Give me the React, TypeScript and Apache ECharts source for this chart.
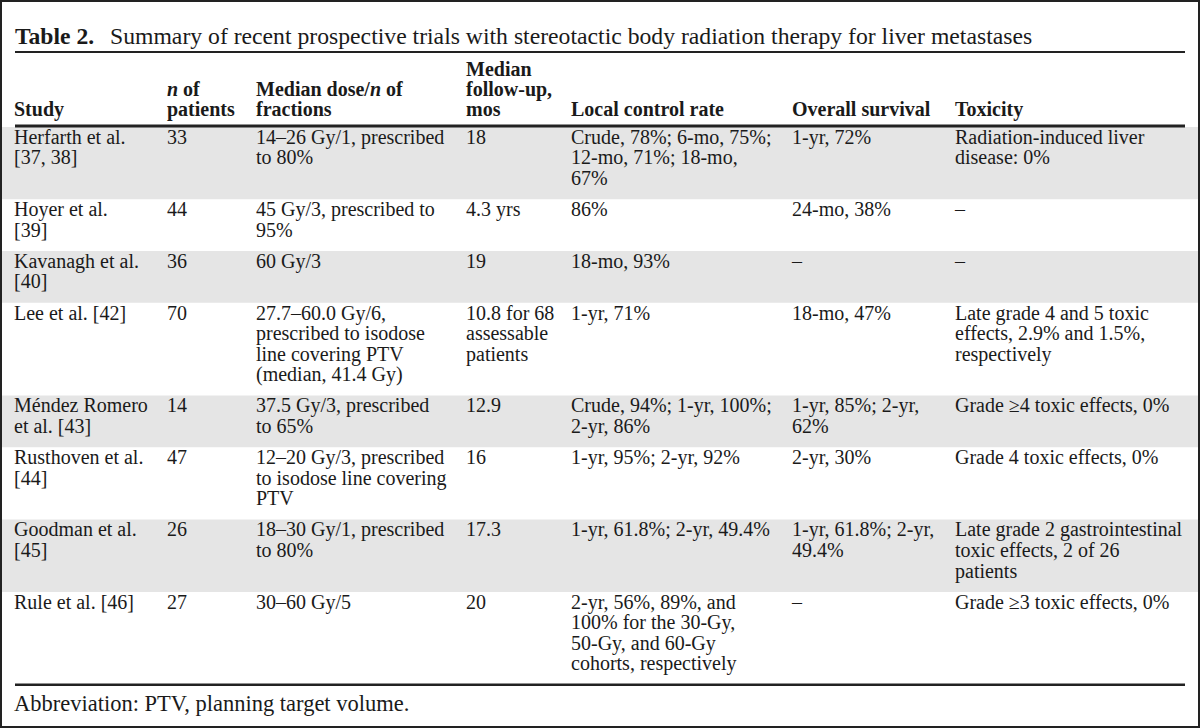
import React, { useEffect, useRef } from "react";
import * as echarts from "echarts";

const titleLabel = "Table 2.";
const titleText =
  "Summary of recent prospective trials with stereotactic body radiation therapy for liver metastases";
const footnote = "Abbreviation: PTV, planning target volume.";

const headers = [
  "Study",
  "{i|n} of\npatients",
  "Median dose/{i|n} of\nfractions",
  "Median\nfollow-up,\nmos",
  "Local control rate",
  "Overall survival",
  "Toxicity",
];

const studies = [
  "Herfarth et al.\n[37, 38]",
  "Hoyer et al.\n[39]",
  "Kavanagh et al.\n[40]",
  "Lee et al. [42]",
  "Méndez Romero\net al. [43]",
  "Rusthoven et al.\n[44]",
  "Goodman et al.\n[45]",
  "Rule et al. [46]",
];
const nPatients = ["33", "44", "36", "70", "14", "47", "26", "27"];
const doses = [
  "14–26 Gy/1, prescribed\nto 80%",
  "45 Gy/3, prescribed to\n95%",
  "60 Gy/3",
  "27.7–60.0 Gy/6,\nprescribed to isodose\nline covering PTV\n(median, 41.4 Gy)",
  "37.5 Gy/3, prescribed\nto 65%",
  "12–20 Gy/3, prescribed\nto isodose line covering\nPTV",
  "18–30 Gy/1, prescribed\nto 80%",
  "30–60 Gy/5",
];
const followUps = ["18", "4.3 yrs", "19", "10.8 for 68\nassessable\npatients", "12.9", "16", "17.3", "20"];
const localControl = [
  "Crude, 78%; 6-mo, 75%;\n12-mo, 71%; 18-mo,\n67%",
  "86%",
  "18-mo, 93%",
  "1-yr, 71%",
  "Crude, 94%; 1-yr, 100%;\n2-yr, 86%",
  "1-yr, 95%; 2-yr, 92%",
  "1-yr, 61.8%; 2-yr, 49.4%",
  "2-yr, 56%, 89%, and\n100% for the 30-Gy,\n50-Gy, and 60-Gy\ncohorts, respectively",
];
const overallSurvival = [
  "1-yr, 72%",
  "24-mo, 38%",
  "–",
  "18-mo, 47%",
  "1-yr, 85%; 2-yr,\n62%",
  "2-yr, 30%",
  "1-yr, 61.8%; 2-yr,\n49.4%",
  "–",
];
const toxicity = [
  "Radiation-induced liver\ndisease: 0%",
  "–",
  "–",
  "Late grade 4 and 5 toxic\neffects, 2.9% and 1.5%,\nrespectively",
  "Grade ≥4 toxic effects, 0%",
  "Grade 4 toxic effects, 0%",
  "Late grade 2 gastrointestinal\ntoxic effects, 2 of 26\npatients",
  "Grade ≥3 toxic effects, 0%",
];

const columns = [studies, nPatients, doses, followUps, localControl, overallSurvival, toxicity];

export default function App() {
  const ref = useRef<HTMLDivElement>(null);

  useEffect(() => {
    if (!ref.current) return;
    const chart = echarts.init(ref.current, null, { renderer: "svg" });

    const W = 1200;
    const H = 728;
    const FONT = "'Liberation Serif', 'Times New Roman', serif";
    const INK = "#1a1a1a";
    const colX = [15, 168, 257, 467, 572, 793, 956];
    const L = 20.6;
    const PAD = 10.5;
    const bodyFs = 20;
    const tableTop = 127;
    const leftX = 15;
    const rightX = 1185;

    const els: any[] = [];
    els.push({ type: "rect", shape: { x: 0, y: 0, width: W, height: H }, style: { fill: "#fff" } });

    // rows
    let y = tableTop;
    for (let r = 0; r < studies.length; r++) {
      const n = Math.max(...columns.map((c) => c[r].split("\n").length));
      const h = n * L + PAD;
      if (r % 2 === 0) {
        els.push({
          type: "rect",
          shape: { x: 2, y, width: W - 4, height: h },
          style: { fill: "#e5e5e5" },
        });
      }
      columns.forEach((col, ci) => {
        els.push({
          type: "text",
          x: colX[ci] - 1,
          y: y - 0.5,
          style: {
            text: col[r],
            fontFamily: FONT,
            fontSize: bodyFs,
            lineHeight: L,
            fill: INK,
            align: "left",
            verticalAlign: "top",
          },
        });
      });
      y += h;
    }
    const tableBottom = y;

    // header
    const hb = { fontFamily: FONT, fontSize: 20, fontWeight: "bold", fill: INK, lineHeight: 20 };
    headers.forEach((t, ci) => {
      els.push({
        type: "text",
        x: colX[ci] - 1,
        y: 118.5,
        style: {
          text: t,
          ...hb,
          align: "left",
          verticalAlign: "bottom",
          rich: {
            i: { ...hb, fontStyle: "italic" },
          },
        },
      });
    });

    // title
    els.push({
      type: "text",
      x: 15,
      y: 36,
      style: {
        text: titleLabel,
        fontFamily: FONT,
        fontSize: 23.6,
        fontWeight: "bold",
        fill: INK,
        align: "left",
        verticalAlign: "middle",
      },
    });
    els.push({
      type: "text",
      x: 110,
      y: 36,
      style: {
        text: titleText,
        fontFamily: FONT,
        fontSize: 23.7,
        fill: INK,
        align: "left",
        verticalAlign: "middle",
      },
    });

    // rules
    els.push({ type: "line", shape: { x1: leftX, y1: 52, x2: rightX, y2: 52 }, style: { stroke: "#222", lineWidth: 2 } });
    els.push({ type: "line", shape: { x1: leftX, y1: 126, x2: rightX, y2: 126 }, style: { stroke: "#222", lineWidth: 3 } });
    els.push({
      type: "line",
      shape: { x1: leftX, y1: tableBottom, x2: rightX, y2: tableBottom },
      style: { stroke: "#222", lineWidth: 2.5 },
    });

    // footnote
    els.push({
      type: "text",
      x: 14,
      y: tableBottom + 19,
      style: {
        text: footnote,
        fontFamily: FONT,
        fontSize: 22.5,
        fill: INK,
        align: "left",
        verticalAlign: "middle",
      },
    });

    // outer border
    els.push({
      type: "rect",
      shape: { x: 1, y: 1, width: W - 2, height: H - 2 },
      style: { fill: "none", stroke: "#222", lineWidth: 2 },
    });

    chart.setOption({
      animation: false,
      graphic: { elements: els },
    });

    return () => chart.dispose();
  }, []);

  return (
    <div
      ref={ref}
      style={{ position: "absolute", left: 0, top: 0, width: 1200, height: 728 }}
    />
  );
}
